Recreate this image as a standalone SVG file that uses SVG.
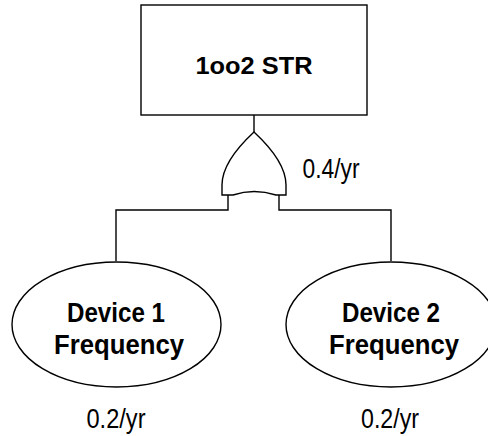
<svg xmlns="http://www.w3.org/2000/svg" width="488" height="436" viewBox="0 0 488 436">
<style>
.s{fill:#fff;stroke:#000;stroke-width:1.4}
.c{fill:none;stroke:#000;stroke-width:1.4}
.b{font-family:"Liberation Sans",Arial,sans-serif;font-weight:bold;fill:#000;text-anchor:middle}
.n{font-family:"Liberation Sans",Arial,sans-serif;fill:#000;text-anchor:middle}
</style>
<rect width="488" height="436" fill="#fff"/>
<g id="connectors">
<line class="c" x1="254" y1="115" x2="254" y2="132"/>
<polyline class="c" points="116,261 116,210 228,210 228,195"/>
<polyline class="c" points="391,261 391,210 279,210 279,195"/>
</g>
<g id="top">
<rect class="s" x="141" y="5" width="226" height="110"/>
<text class="b" x="254" y="74" font-size="23" textLength="117" lengthAdjust="spacingAndGlyphs">1oo2 STR</text>
</g>
<g id="or-gate">
<path class="s" d="M254,132 C240,145 222,165 222,185 L222,195 L233,195 Q254,188 276,195 L286,195 L286,185 C286,165 268,145 254,132 Z"/>
<text class="n" x="331" y="178" font-size="27" textLength="57" lengthAdjust="spacingAndGlyphs">0.4/yr</text>
</g>
<g id="device1">
<ellipse class="s" cx="116.5" cy="324.5" rx="104.5" ry="62.5"/>
<text class="b" x="116" y="322" font-size="28" textLength="98" lengthAdjust="spacingAndGlyphs">Device 1</text>
<text class="b" x="119" y="354" font-size="28" textLength="130" lengthAdjust="spacingAndGlyphs">Frequency</text>
<text class="n" x="116" y="428" font-size="27" textLength="59" lengthAdjust="spacingAndGlyphs">0.2/yr</text>
</g>
<g id="device2">
<ellipse class="s" cx="391" cy="324.5" rx="105" ry="62.5"/>
<text class="b" x="391" y="322" font-size="28" textLength="98" lengthAdjust="spacingAndGlyphs">Device 2</text>
<text class="b" x="394" y="354" font-size="28" textLength="130" lengthAdjust="spacingAndGlyphs">Frequency</text>
<text class="n" x="390" y="428" font-size="27" textLength="58" lengthAdjust="spacingAndGlyphs">0.2/yr</text>
</g>
</svg>
